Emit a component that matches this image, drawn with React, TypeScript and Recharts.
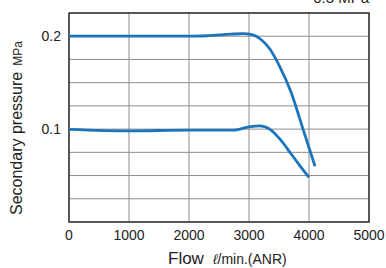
import React from 'react';
import {
  LineChart,
  Line,
  XAxis,
  YAxis,
  CartesianGrid,
  ReferenceArea,
  Label,
} from 'recharts';

// Flow (l/min ANR) vs secondary pressure (MPa)
const setting02 = [
  { x: 0, y: 0.2 },
  { x: 1000, y: 0.2 },
  { x: 2000, y: 0.2 },
  { x: 2300, y: 0.2005 },
  { x: 2700, y: 0.2022 },
  { x: 2900, y: 0.2028 },
  { x: 3050, y: 0.2018 },
  { x: 3200, y: 0.1965 },
  { x: 3350, y: 0.186 },
  { x: 3500, y: 0.169 },
  { x: 3700, y: 0.14 },
  { x: 3900, y: 0.1 },
  { x: 4100, y: 0.06 },
];

const setting01 = [
  { x: 0, y: 0.0997 },
  { x: 1000, y: 0.098 },
  { x: 2000, y: 0.099 },
  { x: 2750, y: 0.099 },
  { x: 3000, y: 0.1025 },
  { x: 3180, y: 0.1035 },
  { x: 3350, y: 0.0997 },
  { x: 3520, y: 0.0889 },
  { x: 3700, y: 0.0735 },
  { x: 3850, y: 0.0605 },
  { x: 4000, y: 0.048 },
];

const xTicks = [0, 1000, 2000, 3000, 4000, 5000];
const yTicks = [0, 0.025, 0.05, 0.075, 0.1, 0.125, 0.15, 0.175, 0.2, 0.225];
const yLabelled = [0.1, 0.2];

const FONT = '"Liberation Sans", Arial, sans-serif';
const BLUE = '#1b75bb';

const fmtY = (v: number) => {
  const hit = yLabelled.find((t) => Math.abs(t - v) < 1e-6);
  return hit !== undefined ? hit.toFixed(1) : '';
};

// extra captions (title, axis titles) drawn in one go
const Captions = () => (
  <g fontFamily={FONT} fill="#222">
    <text x={369} y={3} textAnchor="end" fontSize={15}>0.3 MPa</text>
    <text x={168} y={264} fontSize={17}>Flow</text>
    <text x={213} y={264} fontSize={14}>
      <tspan fontStyle="italic">ℓ</tspan>/min.(ANR)
    </text>
    <text transform="translate(22,215) rotate(-90)" fontSize={16}>
      Secondary pressure
      <tspan fontSize={12} dx={6}>MPa</tspan>
    </text>
  </g>
);

export default function App() {
  return (
    <div style={{ position: 'fixed', left: 0, top: 0, width: 386, height: 268, background: '#fff' }}>
      <LineChart width={386} height={268} margin={{ top: 13, right: 17, bottom: 16, left: 0 }}>
        <CartesianGrid stroke="#8c8c8c" strokeWidth={1} />
        <XAxis
          type="number"
          dataKey="x"
          height={30}
          domain={[0, 5000]}
          ticks={xTicks}
          tickLine={false}
          axisLine={false}
          tick={{ fill: '#222', fontSize: 14, fontFamily: FONT }}
          interval={0}
        >
          <Label content={() => <Captions />} />
        </XAxis>
        <YAxis
          type="number"
          dataKey="y"
          width={69}
          domain={[0, 0.225]}
          ticks={yTicks}
          tickFormatter={fmtY}
          tickLine={false}
          axisLine={false}
          interval={0}
          tick={{ fill: '#222', fontSize: 14, fontFamily: FONT }}
        />
        <ReferenceArea x1={0} x2={5000} y1={0} y2={0.225} fill="none" stroke="#333" strokeWidth={1.5} />
        <Line
          data={setting02}
          dataKey="y"
          type="monotone"
          stroke={BLUE}
          strokeWidth={2.8}
          dot={false}
          isAnimationActive={false}
        />
        <Line
          data={setting01}
          dataKey="y"
          type="monotone"
          stroke={BLUE}
          strokeWidth={2.8}
          dot={false}
          isAnimationActive={false}
        />
      </LineChart>
    </div>
  );
}
